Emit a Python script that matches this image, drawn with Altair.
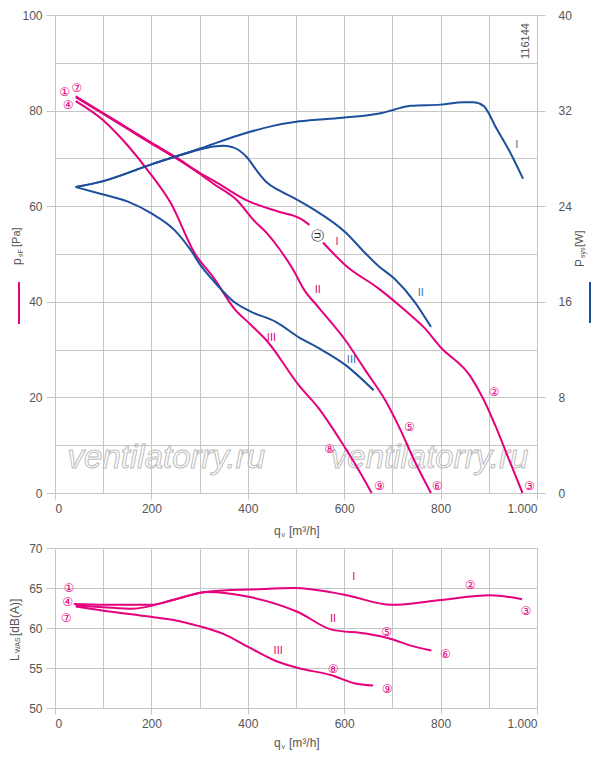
import altair as alt
import pandas as pd

PINK = "#e5007d"
BLUE = "#1d4f9c"
BLUE_LBL = "#3f6fb5"
GRID = "#c6c6c6"
TXT = "#555555"
FONT = "Liberation Sans"

W = 482
H = 478
H2 = 160

# ---------------- pressure curves p_sF [Pa] vs q_v [m3/h] ----------------
p1a_q = [43, 100, 150, 200, 250, 300, 330, 400, 466, 507, 528]
p1a_v = [83.0, 79.5, 76.4, 73.3, 70.3, 67.0, 65.3, 61.1, 58.8, 57.5, 56.1]
p1b_q = [556, 603, 671, 732, 766, 800, 862, 889, 916, 943, 970]
p1b_v = [52.4, 47.6, 42.8, 37.7, 34.6, 30.5, 24.4, 19.6, 13.5, 6.7, 0.0]

p2_q = [43, 100, 150, 200, 250, 300, 330, 378, 412, 440, 466, 493, 517, 548, 603, 643, 684, 712, 746, 780]
p2_v = [82.8, 79.3, 76.2, 73.1, 70.1, 66.8, 64.6, 61.2, 57.1, 54.3, 51.0, 46.9, 42.5, 38.7, 31.9, 25.8, 19.6, 14.2, 6.7, 0.0]

p3_q = [43, 100, 150, 194, 241, 289, 330, 371, 405, 439, 507, 548, 589, 623, 657]
p3_v = [82.0, 78.0, 72.8, 67.3, 60.5, 50.3, 44.9, 38.7, 35.3, 31.9, 22.4, 17.6, 11.5, 6.0, 0.0]

# ---------------- power curves P_sys [W] ----------------
w1_q = [43, 100, 200, 303, 378, 450, 507, 596, 678, 705, 739, 800, 848, 868, 889, 916, 943, 971]
w1_v = [25.6, 26.1, 27.5, 28.85, 29.9, 30.7, 31.1, 31.4, 31.8, 32.1, 32.4, 32.5, 32.7, 32.7, 32.4, 30.5, 28.6, 26.3]

w2_q = [43, 100, 200, 262, 300, 330, 350, 371, 398, 420, 439, 466, 500, 534, 603, 643, 671, 705, 746, 780]
w2_v = [25.6, 26.1, 27.5, 28.3, 28.75, 29.0, 29.05, 28.9, 28.1, 26.9, 26.0, 25.3, 24.6, 23.8, 21.8, 20.1, 19.0, 17.9, 16.0, 13.9]

w3_q = [43, 98, 150, 200, 248, 282, 303, 330, 371, 405, 459, 507, 548, 603, 661]
w3_v = [25.6, 25.0, 24.4, 23.4, 22.0, 20.3, 19.0, 17.7, 16.0, 15.2, 14.3, 13.0, 12.1, 10.7, 8.6]

# ---------------- sound power L_WA5 [dB(A)] ----------------
l1_q = [39, 100, 199, 250, 301, 350, 402, 496, 598, 699, 801, 902, 969]
l1_v = [63.0, 62.9, 62.9, 63.6, 64.4, 64.7, 64.8, 65.0, 64.2, 62.9, 63.5, 64.1, 63.6]
l2_q = [43, 100, 160, 246, 316, 402, 504, 574, 645, 699, 738, 781]
l2_v = [62.8, 62.6, 62.4, 63.5, 64.5, 63.9, 62.0, 59.8, 59.3, 58.6, 57.8, 57.2]
l3_q = [43, 98, 199, 246, 301, 348, 402, 457, 504, 574, 621, 660]
l3_v = [62.7, 62.2, 61.4, 61.0, 60.2, 59.3, 57.6, 55.9, 55.0, 54.1, 53.1, 52.8]

# ---------------- labels ----------------
roman = ["I", "II", "III"]
pr_lbl_q = [585, 545, 449]
pr_lbl_v = [52.6, 42.4, 32.4]
pw_lbl_q = [958, 759, 615]
pw_lbl_v = [29.1, 16.7, 11.1]
snd_lbl_q = [620, 577, 463]
snd_lbl_v = [66.4, 61.1, 57.1]

circ = ["①", "⑦", "④", "②", "③", "⑤", "⑥", "⑧", "⑨"]
circ_top_q = [20, 45, 27, 911, 984, 735, 793, 570, 673]
circ_top_v = [83.8, 84.7, 81.2, 21.1, 1.4, 13.8, 1.4, 9.2, 1.4]
circ_bot = ["①", "④", "⑦", "②", "③", "⑤", "⑥", "⑧", "⑨"]
circ_bot_q = [29, 26, 23, 861, 977, 688, 810, 577, 689]
circ_bot_v = [65.0, 63.3, 61.3, 65.4, 62.1, 59.5, 56.8, 54.9, 52.4]

speed_lbl = ["ⓝ"]
speed_q = [544]
speed_v = [53.8]

wm_text = ["ventilatorry.ru", "ventilatorry.ru"]
wm_q = [231, 777]
wm_v = [7.4, 7.4]

x_ticks = list(range(0, 1001, 100))
p_ticks = list(range(0, 101, 10))
w_ticks = [0, 8, 16, 24, 32, 40]
l_ticks = [50, 55, 60, 65, 70]


def frame(name, seg, qs, vs):
    return pd.DataFrame({"curve": name, "key": f"{name}-{seg}", "q": qs, "v": vs})


press = pd.concat([frame("I", "a", p1a_q, p1a_v), frame("I", "b", p1b_q, p1b_v),
                   frame("II", "a", p2_q, p2_v), frame("III", "a", p3_q, p3_v)])
power = pd.concat([frame("I", "a", w1_q, w1_v), frame("II", "a", w2_q, w2_v),
                   frame("III", "a", w3_q, w3_v)])
sound = pd.concat([frame("I", "a", l1_q, l1_v), frame("II", "a", l2_q, l2_v),
                   frame("III", "a", l3_q, l3_v)])

x_scale = alt.Scale(domain=[0, 1000], nice=False, zero=False)
x_axis = alt.Axis(values=x_ticks, title=None, domain=False, grid=True, gridColor=GRID,
                  gridWidth=1, tickSize=6, tickColor=GRID,
                  tickOpacity={"condition": {"test": "datum.value % 200 === 0", "value": 1}, "value": 0},
                  labelExpr="datum.value % 200 === 0 ? (datum.value === 1000 ? '1.000' : datum.label) : ''",
                  labelPadding=4, labelFont=FONT, labelFontSize=12, labelColor=TXT)


def X():
    return alt.X("q:Q", scale=x_scale, axis=x_axis)


p_scale = alt.Scale(domain=[0, 100], nice=False, zero=False)
p_axis = alt.Axis(values=p_ticks, title=None, domain=False, grid=True, gridColor=GRID,
                  gridWidth=1, tickSize=9, tickColor=GRID,
                  tickOpacity={"condition": {"test": "datum.value % 20 === 0", "value": 1}, "value": 0},
                  labelExpr="datum.value % 20 === 0 ? datum.label : ''",
                  labelPadding=4, labelFont=FONT, labelFontSize=12, labelColor=TXT)


def YP():
    return alt.Y("v:Q", scale=p_scale, axis=p_axis)


w_scale = alt.Scale(domain=[0, 40], nice=False, zero=False)
w_axis = alt.Axis(values=w_ticks, title=None, domain=False, grid=False, orient="right",
                  tickSize=8, tickColor=GRID, labelPadding=13,
                  labelFont=FONT, labelFontSize=12, labelColor=TXT)


def YW():
    return alt.Y("v:Q", scale=w_scale, axis=w_axis)


l_scale = alt.Scale(domain=[50, 70], nice=False, zero=False)
l_axis = alt.Axis(values=l_ticks, title=None, domain=False, grid=True, gridColor=GRID,
                  gridWidth=1, tickSize=9, tickColor=GRID, labelPadding=4,
                  labelFont=FONT, labelFontSize=12, labelColor=TXT)


def YL():
    return alt.Y("v:Q", scale=l_scale, axis=l_axis)


def labels(texts, qs, vs, color, y_enc, size=11, font=FONT, angle=0):
    df = pd.DataFrame({"t": texts, "q": qs, "v": vs})
    return alt.Chart(df).mark_text(color=color, fontSize=size, font=font, angle=angle,
                                   align="center", baseline="middle").encode(
        x=X(), y=y_enc, text="t:N")


def ptext(txt, x, y, size=12, angle=0, color=TXT, align="left", baseline="middle"):
    return alt.Chart(pd.DataFrame({"t": [txt]})).mark_text(
        align=align, baseline=baseline, fontSize=size, angle=angle, color=color, font=FONT
    ).encode(x=alt.value(x), y=alt.value(y), text="t:N")


def vrule(x, y1, y2, color):
    return alt.Chart(pd.DataFrame({"a": [0]})).mark_rule(color=color, strokeWidth=2).encode(
        x=alt.value(x), y=alt.value(y1), y2=alt.value(y2))


def xtitle(h, dy):
    return [ptext("q", W / 2 - 22, h + dy, 12),
            ptext("v", W / 2 - 14.5, h + dy + 4, 7),
            ptext("[m³/h]", W / 2 - 7, h + dy, 12)]


# ---------------- top panel ----------------
pink_lines = alt.Chart(press).mark_line(color=PINK, strokeWidth=2, interpolate="monotone").encode(
    x=X(), y=YP(), detail="key:N")

watermark = alt.Chart(pd.DataFrame({"t": wm_text, "q": wm_q, "v": wm_v})).mark_text(
    font=FONT, fontSize=33, fontStyle="italic", fill="#ffffff", fillOpacity=0,
    stroke="#bdbdbd", strokeWidth=1, align="center", baseline="middle").encode(
    x=X(), y=YP(), text="t:N")

pink_part = alt.layer(
    watermark,
    pink_lines,
    labels(roman, pr_lbl_q, pr_lbl_v, PINK, YP()),
    labels(circ, circ_top_q, circ_top_v, PINK, YP(), size=12, font="DejaVu Sans"),
    labels(speed_lbl, speed_q, speed_v, "#222222", YP(), size=13, font="DejaVu Sans", angle=90),
    ptext("116144", W - 11, 26, 11, angle=270, align="center"),
    ptext("p", -38, 250, 12, angle=270),
    ptext("sF", -34, 242, 7, angle=270),
    ptext("[Pa]", -38, 232, 11, angle=270),
    vrule(-36, 267, 309, PINK),
    *xtitle(H, 38),
)

blue_lines = alt.Chart(power).mark_line(color=BLUE, strokeWidth=2, interpolate="monotone").encode(
    x=X(), y=YW(), detail="key:N")

blue_part = alt.layer(
    blue_lines,
    labels(roman, pw_lbl_q, pw_lbl_v, BLUE_LBL, YW()),
    ptext("P", W + 43, 252, 12, angle=270),
    ptext("sys", W + 46, 243, 7, angle=270),
    ptext("[W]", W + 43, 232, 11, angle=270),
    vrule(W + 53, 267, 308, BLUE),
)

top = alt.layer(pink_part, blue_part).resolve_scale(y="independent").properties(width=W, height=H)

# ---------------- bottom panel ----------------
snd_lines = alt.Chart(sound).mark_line(color=PINK, strokeWidth=2, interpolate="monotone").encode(
    x=X(), y=YL(), detail="key:N")

bottom = alt.layer(
    snd_lines,
    labels(roman, snd_lbl_q, snd_lbl_v, PINK, YL()),
    labels(circ_bot, circ_bot_q, circ_bot_v, PINK, YL(), size=12, font="DejaVu Sans"),
    ptext("L", -40, 113, 12, angle=270),
    ptext("WAS", -37, 105, 7, angle=270),
    ptext("[dB(A)]", -40, 88, 12, angle=270),
    *xtitle(H2, 35),
).properties(width=W, height=H2)

chart = alt.vconcat(top, bottom, spacing=55, bounds="flush").configure_view(
    stroke=None).configure(padding={"left": 0, "right": 0, "top": 0, "bottom": 0})

chart.save("out.html", embed_options={"renderer": "svg", "actions": False})
